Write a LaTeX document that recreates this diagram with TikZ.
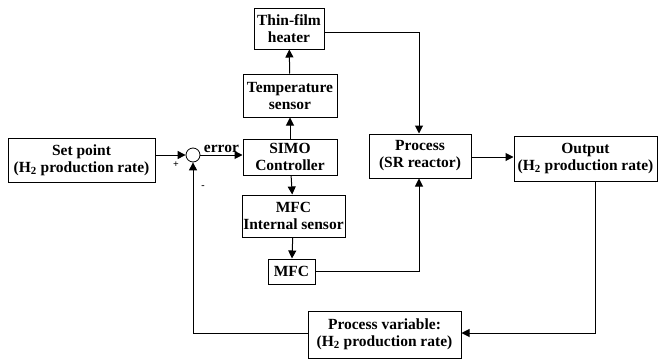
\documentclass[tikz,border=0pt]{standalone}
\usepackage{fontspec}
\setmainfont{Liberation Serif}
\usetikzlibrary{arrows.meta,positioning,calc}
\tikzset{main base/.style={draw,line width=1pt,text centered,align=center,
    font=\fontsize{15.5}{17}\selectfont\bfseries,inner sep=0.5pt}, }
\tikzset{main node/.style={rectangle,main base}, }
\tikzset{linea/.style={-{Triangle[length=8pt,width=8pt]},line width=1pt,draw}}
\tikzset{somma/.style={circle,draw,line width=0.8pt,minimum size=14pt,inner sep=0pt}, }
\tikzset{segno/.style={font=\fontsize{10}{10}\selectfont\bfseries,inner sep=0pt}, }
\newcommand{\Hdue}{H\textsubscript{2}}

\begin{document}
\begin{tikzpicture}[x=1pt,y=-1pt]
  \useasboundingbox (0,0) rectangle (659,359);
    \node[main node,minimum width=147pt,minimum height=44pt] (setp) at (81.5,160) {Set point\\(\Hdue{} production rate)};
    \node[somma] (sum) at (193,155) {};
    \node[main node,minimum width=94pt,minimum height=36pt] (simo) at (290,157) {SIMO\\Controller};
    \node[main node,minimum width=94pt,minimum height=43pt] (temp) at (290,95.5) {Temperature\\sensor};
    \node[main node,minimum width=70pt,minimum height=41pt] (heat) at (289,28.5) {Thin-film\\heater};
%    
    \node[main node,minimum width=103pt,minimum height=42pt] (mfcs) at (293.5,216) {MFC\\Internal sensor};
    \node[main node,minimum width=47pt,minimum height=25pt] (mfc) at (291.5,271.5) {MFC};
%    
    \node[main node,minimum width=102pt,minimum height=44pt] (proc) at (420,156) {Process\\(SR reactor)};
    \node[main node,minimum width=143pt,minimum height=45pt] (out) at (585.5,158.5) {Output\\(\Hdue{} production rate)};
    \node[main node,minimum width=153pt,minimum height=47pt] (pv) at (384.5,334.5) {Process variable:\\(\Hdue{} production rate)};
%
    \coordinate (c1) at (419,32);
    \coordinate (c2) at (595,333);
    \node[segno] (piu) at (176,165) {+};
    \node[segno] (meno) at (203,187) {-};
%
\path[linea] (setp.east |- sum.west) -- (sum.west);
\path[linea] (sum.east) -- node[above,main base,draw=none,inner sep=2pt] {error} (sum.east -| simo.west);
\foreach \x /\y in{simo/temp,temp/heat,simo/mfcs,mfcs/mfc}
  \path[linea] (\x) -- (\y);
\path[linea] (heat.east |- c1) -- (c1) -- (proc.north -| c1);
\path[linea] (mfc.east) -| (proc.south -| c1);
\path[linea] (proc.east |- 0,157) -- (out.west |- 0,157);
\path[linea] (out.south -| c2) -- (c2) -- (pv.east |- c2);
\path[linea] (pv.west |- c2) -| (sum.south);
%  
\end{tikzpicture}
\end{document}
